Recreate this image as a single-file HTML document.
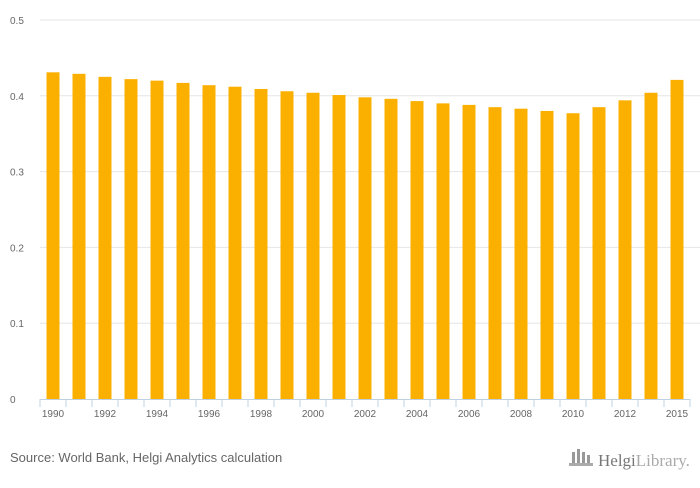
<!DOCTYPE html>
<html><head><meta charset="utf-8"><style>
body{margin:0;background:#fff;width:700px;height:483px;overflow:hidden;font-family:"Liberation Sans",sans-serif}
</style></head><body>
<svg width="700" height="483">
<g id="grid"></g><g id="bars"></g><g id="xaxis"></g>
<text x="10" y="462" font-size="13" fill="#666">Source: World Bank, Helgi Analytics calculation</text>
<g>
<rect x="572" y="452" width="3" height="12" fill="#999"/><rect x="577" y="449" width="3" height="15" fill="#999"/><rect x="582" y="452" width="3" height="12" fill="#999"/><rect x="587" y="455" width="3" height="9" fill="#999"/>
<rect x="569" y="463" width="24" height="3" fill="#aaa"/>
<text x="598" y="466" font-size="17" fill="#777" font-family="Liberation Serif,serif">Helgi<tspan fill="#aaa">Library.</tspan></text>
</g>
</svg>
<script>
const categories=[1990,1991,1992,1993,1994,1995,1996,1997,1998,1999,2000,2001,2002,2003,2004,2005,2006,2007,2008,2009,2010,2011,2012,2013,2015];
const values=[.431,.429,.425,.422,.420,.417,.414,.412,.409,.406,.404,.401,.398,.396,.393,.390,.388,.385,.383,.380,.377,.385,.394,.404,.421];
const yTicks=[0,0.1,0.2,0.3,0.4,0.5];
const yTickLabels=["0","0.1","0.2","0.3","0.4","0.5"];
const NS="http://www.w3.org/2000/svg";
const x0=40,x1=690,yBase=399,yTop=20,yMax=0.5;
const bw=(x1-x0)/categories.length;
const y=v=>yBase-(v/yMax)*(yBase-yTop);
const xc=i=>x0+bw*(i+0.5);
function mk(t,a,p){const e=document.createElementNS(NS,t);for(const k in a)e.setAttribute(k,a[k]);p.appendChild(e);return e;}
const g=document.getElementById('grid'),b=document.getElementById('bars'),xa=document.getElementById('xaxis');
yTicks.forEach((v,i)=>{
 if(v>0){const l=mk('line',{x1:x0,x2:x1+10,y1:y(v),y2:y(v),stroke:'#e6e6e6'},g);
 
 }
 const t=mk('text',{x:10,y:y(v)+4,'font-size':10,fill:'#666'},g);t.textContent=yTickLabels[i];
 
 
});
values.forEach((v,i)=>{
 const r=mk('rect',{x:xc(i)-6.5,y:y(v),width:13,height:yBase-y(v),fill:'#fbb000'},b);
 
 
});
const ax=mk('line',{x1:x0,x2:x1,y1:yBase+0.5,y2:yBase+0.5,stroke:'#c0d0e0'},xa);


for(let i=0;i<=categories.length;i++){mk('line',{x1:x0+bw*i,x2:x0+bw*i,y1:yBase,y2:yBase+8,stroke:'#c0d0e0'},xa);}
categories.forEach((c,i)=>{
 if(i%2===0){const t=mk('text',{x:xc(i),y:yBase+18,'font-size':10,fill:'#666','text-anchor':'middle'},xa);t.textContent=c;
 
 }
});
</script>
</body></html>
